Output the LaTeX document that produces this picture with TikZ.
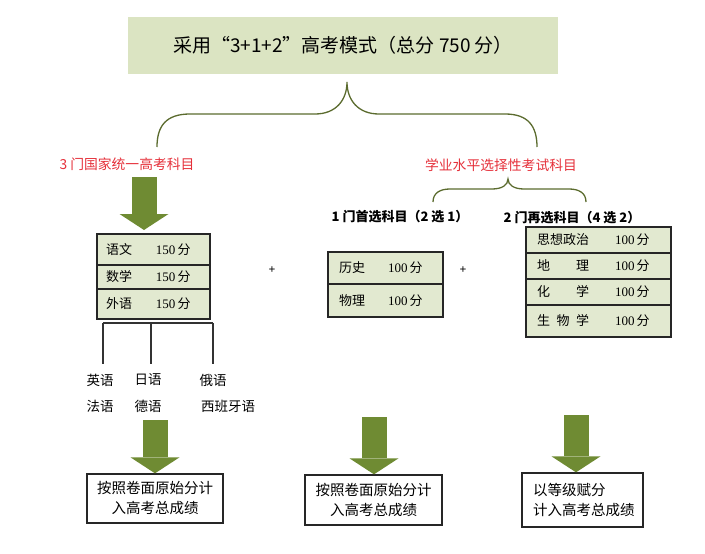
\documentclass[tikz,border=0pt]{standalone}
\usepackage{fontspec}
\setmainfont{Liberation Serif}
\newfontfamily\cjk{Noto Sans CJK SC}
\usetikzlibrary{calc,arrows.meta,positioning}
\definecolor{titlebg}{HTML}{DBE4C2}
\definecolor{cellbg}{HTML}{E2E9D0}
\definecolor{arrc}{HTML}{6F8B33}
\definecolor{bracec}{HTML}{5B6B2E}
\definecolor{redc}{HTML}{E5303A}
\newcommand{\pts}[1]{{\rmfamily #1}\,分}
\tikzset{
  brc/.style={draw=bracec,line width=1.3pt},
  blk/.style={line width=25pt,arrc,-{Triangle[width=49pt,length=16pt,line width=0pt]}},
  cell/.style={draw=black!85,line width=1.3pt,fill=cellbg,minimum height=#1,inner ysep=0pt,outer sep=0pt,
    align=left,anchor=north west,font=\cjk\fontsize{13}{15}\selectfont},
  lt/.style={cell=#1,text width=95pt,inner xsep=9pt},
  mt/.style={cell=#1,text width=93pt,inner xsep=11pt},
  rt/.style={cell=#1,text width=123pt,inner xsep=11pt},
  res/.style={draw=black!85,line width=1.3pt,fill=white,inner sep=0pt,font=\cjk\fontsize{14.5}{20}\selectfont},
  lnk/.style={draw=black!80,line width=1.2pt},
  lang/.style={font=\cjk\fontsize{13.5}{16}\selectfont},
  redlbl/.style={text=redc,font=\cjk\fontsize{13.8}{16}\selectfont},
  sublbl/.style={font=\cjk\bfseries\fontsize{13}{16}\selectfont}
}
\begin{document}
\begin{tikzpicture}[x=1pt,y=-1pt]
\useasboundingbox (0,0) rectangle (705,554);
% title and braces
\node[fill=titlebg,minimum width=430pt,minimum height=57pt,inner sep=0pt,font=\cjk\fontsize{19}{21}\selectfont] (title) at (343,45) {采用“3+1+2”高考模式（总分 750 分）};
\draw[brc] (157,147) .. controls (157,126) and (166,114) .. (190,114) -- (315,114) .. controls (336,114) and (347,100) .. (347,82)
  .. controls (347,100) and (358,114) .. (379,114) -- (505,114) .. controls (528,114) and (537,126) .. (537,147);
\node[redlbl] (core) at (127,164) {3 门国家统一高考科目};
\node[redlbl] (elect) at (501,165) {学业水平选择性考试科目};
\draw[brc] (433,202) .. controls (433,193) and (440,189) .. (450,189) -- (492,189) .. controls (502,189) and (508,185) .. (508,179)
  .. controls (508,185) and (514,189) .. (524,189) -- (569,189) .. controls (579,189) and (586,193) .. (586,202);
\node[sublbl] (first) at (400,217) {1 门首选科目（2 选 1）};
\node[sublbl] (second) at (572,218) {2 门再选科目（4 选 2）};
% tables
\node[lt=31pt] (yw) at (97,234) {\makebox[26pt][l]{语文}\hspace{24pt}\pts{150}};
\node[lt=24pt,below=0pt of yw] (sx) {\makebox[26pt][l]{数学}\hspace{24pt}\pts{150}};
\node[lt=30pt,below=0pt of sx] (wy) {\makebox[26pt][l]{外语}\hspace{24pt}\pts{150}};
\node[mt=32pt] (ls) at (328,252) {\makebox[26pt][l]{历史}\hspace{23pt}\pts{100}};
\node[mt=33pt,below=0pt of ls] (wl) {\makebox[26pt][l]{物理}\hspace{23pt}\pts{100}};
\node[rt=26pt] (zz) at (526,227) {\makebox[52pt][l]{思想政治}\hspace{26pt}\pts{100}};
\node[rt=26pt,below=0pt of zz] (dl) {\makebox[52pt][s]{地\hfill 理}\hspace{26pt}\pts{100}};
\node[rt=26pt,below=0pt of dl] (hx) {\makebox[52pt][s]{化\hfill 学}\hspace{26pt}\pts{100}};
\node[rt=32pt,below=0pt of hx] (sw) {\makebox[52pt][s]{生\hfill 物\hfill 学}\hspace{26pt}\pts{100}};
\node[font=\bfseries\fontsize{12}{13}\selectfont] (p1) at (272,270) {+};
\node[font=\bfseries\fontsize{12}{13}\selectfont] (p2) at (463,270) {+};
\coordinate (a0) at (144,177);
\draw[blk,shorten >=4pt] (a0) -- (a0 |- yw.north);
% foreign languages
\node[lang] (en) at (100,380) {英语};
\node[lang] (jp) at (148,380) {日语};
\node[lang] (ru) at (213,380) {俄语};
\node[lang] (fr) at (100,406) {法语};
\node[lang] (de) at (148,406) {德语};
\node[lang] (es) at (228,406) {西班牙语};
\coordinate (bl) at (103,323);
\coordinate (bm) at (151,323);
\coordinate (br) at (213,323);
\draw[lnk] (bl) -- (br);
\foreach \c/\n in {bl/en,bm/jp,br/ru}{\draw[lnk,shorten >=6pt] (\c) -- (\c |- \n.north);}
% results
\node[res,minimum width=136pt,minimum height=49pt,align=center] (r1) at (155,498.5) {按照卷面原始分计\\入高考总成绩};
\node[res,minimum width=137pt,minimum height=50pt,align=center] (r2) at (373.5,500) {按照卷面原始分计\\入高考总成绩};
\node[res,text width=99pt,inner xsep=11pt,minimum height=54pt,align=left] (r3) at (582.5,500) {以等级赋分\\计入高考总成绩};
\coordinate (a1) at (155,420);
\coordinate (a2) at (374,417);
\coordinate (a3) at (576,415);
\foreach \a/\r in {a1/r1,a2/r2,a3/r3}{\draw[blk] (\a) -- (\a |- \r.north);}
\end{tikzpicture}
\end{document}
